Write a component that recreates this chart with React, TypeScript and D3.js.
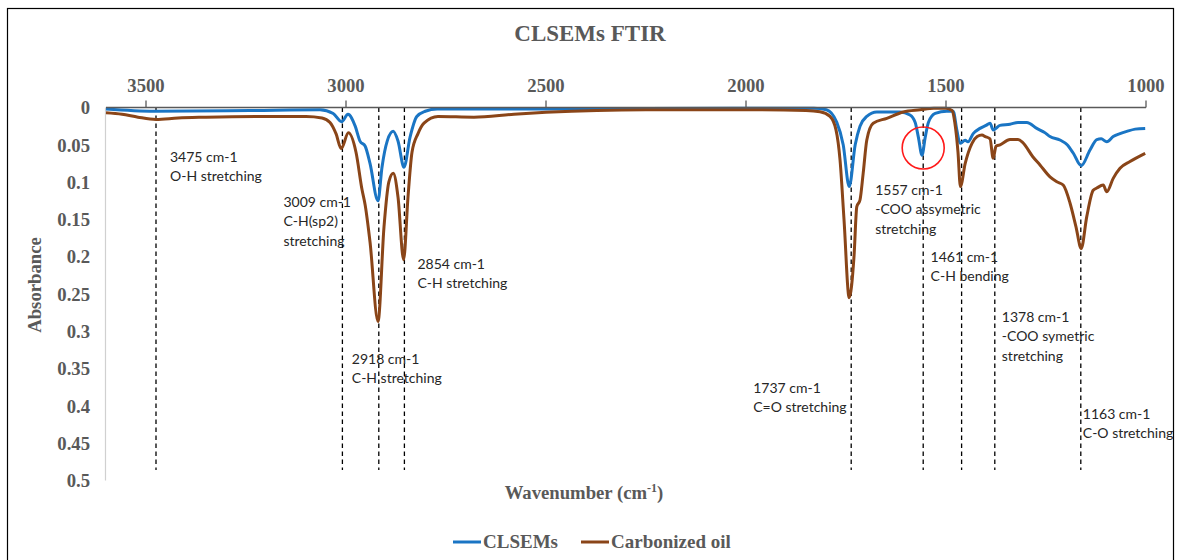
import React from "react";
import * as d3 from "d3";

// FTIR absorbance spectra, [wavenumber (cm-1), absorbance]
const clsemsSpectrum: [number, number][] = [
  [3600, 0.002], [3480, 0.005], [3240, 0.004], [3065, 0.003], [3032, 0.008],
  [3011, 0.019], [2995, 0.009], [2977, 0.025], [2965, 0.045], [2952, 0.052],
  [2940, 0.075], [2920, 0.125], [2910, 0.08], [2897, 0.045], [2882, 0.032],
  [2870, 0.045], [2855, 0.08], [2840, 0.04], [2823, 0.012], [2802, 0.005],
  [2772, 0.002], [2500, 0.002], [2000, 0.001], [1830, 0.001], [1799, 0.003],
  [1773, 0.02], [1757, 0.05], [1742, 0.106], [1727, 0.05], [1715, 0.025],
  [1698, 0.012], [1673, 0.006], [1615, 0.006], [1590, 0.01], [1577, 0.02],
  [1569, 0.04], [1560, 0.064], [1552, 0.04], [1544, 0.02], [1527, 0.008],
  [1498, 0.005], [1482, 0.005], [1473, 0.03], [1465, 0.048], [1452, 0.044],
  [1445, 0.046], [1432, 0.035], [1415, 0.028], [1400, 0.024], [1390, 0.021],
  [1382, 0.03], [1365, 0.024], [1340, 0.0225], [1320, 0.02], [1298, 0.02],
  [1273, 0.028], [1252, 0.034], [1240, 0.039], [1215, 0.0435], [1197, 0.05],
  [1182, 0.061], [1162, 0.078], [1140, 0.057], [1123, 0.043], [1112, 0.042],
  [1098, 0.046], [1082, 0.039], [1065, 0.035], [1048, 0.032], [1027, 0.029],
  [1002, 0.028],
];

const carbonizedOilSpectrum: [number, number][] = [
  [3600, 0.007], [3560, 0.009], [3520, 0.013], [3475, 0.016], [3420, 0.014],
  [3350, 0.013], [3200, 0.012], [3100, 0.012], [3060, 0.014], [3040, 0.02],
  [3025, 0.035], [3012, 0.055], [2994, 0.034], [2975, 0.06], [2960, 0.11],
  [2952, 0.131], [2940, 0.18], [2920, 0.287], [2905, 0.16], [2893, 0.1],
  [2882, 0.088], [2870, 0.12], [2856, 0.204], [2845, 0.12], [2835, 0.06],
  [2820, 0.035], [2805, 0.021], [2770, 0.012], [2680, 0.013], [2580, 0.009],
  [2500, 0.0065], [2250, 0.003], [2000, 0.003], [1850, 0.004], [1815, 0.0056],
  [1790, 0.012], [1775, 0.03], [1765, 0.07], [1755, 0.15], [1742, 0.255],
  [1730, 0.2], [1723, 0.133], [1715, 0.124], [1707, 0.088], [1698, 0.0435],
  [1682, 0.021], [1648, 0.0145], [1607, 0.006], [1565, 0.003], [1530, 0.001],
  [1500, 0.001], [1485, 0.004], [1478, 0.02], [1470, 0.06], [1464, 0.106],
  [1452, 0.075], [1435, 0.048], [1422, 0.039], [1410, 0.037], [1402, 0.039],
  [1390, 0.042], [1382, 0.068], [1375, 0.052], [1365, 0.05], [1340, 0.043],
  [1320, 0.043], [1308, 0.047], [1283, 0.066], [1265, 0.077], [1240, 0.093],
  [1223, 0.0995], [1207, 0.104], [1190, 0.128], [1175, 0.16], [1162, 0.189],
  [1148, 0.146], [1132, 0.111], [1123, 0.108], [1107, 0.104], [1098, 0.113],
  [1082, 0.095], [1065, 0.0815], [1040, 0.0725], [1002, 0.0615],
];

const xTicks = [3500, 3000, 2500, 2000, 1500, 1000];
const yTicks = [0, 0.05, 0.1, 0.15, 0.2, 0.25, 0.3, 0.35, 0.4, 0.45, 0.5];

// assigned bands
const bandWavenumbers = [3475, 3009, 2918, 2854, 1737, 1557, 1461, 1378, 1163];
const bandLabels = [
  ["3475 cm-1", "O-H stretching"],
  ["3009 cm-1", "C-H(sp2)", "stretching"],
  ["2918 cm-1", "C-H stretching"],
  ["2854 cm-1", "C-H stretching"],
  ["1737 cm-1", "C=O stretching"],
  ["1557 cm-1", "-COO assymetric", "stretching"],
  ["1461 cm-1", "C-H bending"],
  ["1378 cm-1", "-COO symetric", "stretching"],
  ["1163 cm-1", "C-O stretching"],
];
// label placement relative to each band line: [dx, y of first line]
const bandLabelLayout: [number, number][] = [
  [14, 157], [-59, 202], [-27, 359], [13, 264], [-98, 388],
  [-48, 190], [-31, 257], [7, 317], [2, 414],
];

const highlightedBand = 1557;

const seriesNames = ["CLSEMs", "Carbonized oil"];
const seriesColors = ["#1a75c4", "#8a4518"];

const W = 1178;
const H = 560;
const gray = "#595959";
const serif = "'Liberation Serif', 'Times New Roman', serif";
const sans = "Lato, 'Open Sans', sans-serif";

export default function App() {
  const x = d3.scaleLinear().domain([3600, 1000]).range([106, 1146]);
  const y = d3.scaleLinear().domain([0, 0.5]).range([107.5, 480.5]);

  const line = d3
    .line<[number, number]>()
    .x((d) => x(d[0]))
    .y((d) => y(d[1]))
    .curve(d3.curveMonotoneX);

  const series = [clsemsSpectrum, carbonizedOilSpectrum];

  return (
    <svg
      width={W}
      height={H}
      viewBox={`0 0 ${W} ${H}`}
      style={{ position: "absolute", left: 0, top: 0, background: "#fff" }}
    >
      <rect x={0} y={0} width={W} height={H} fill="#fff" />
      <rect x={7.5} y={8.5} width={1166} height={H + 10} fill="none" stroke="#000" strokeWidth={1.2} />

      <text
        x={590}
        y={41}
        textAnchor="middle"
        fontFamily={serif}
        fontWeight="bold"
        fontSize={23}
        fill={gray}
      >
        CLSEMs FTIR
      </text>

      {/* value axis */}
      <line x1={105.5} x2={105.5} y1={y(0)} y2={y(0.5)} stroke="#d0d0d0" strokeWidth={1.2} />
      {yTicks.map((t) => (
        <text
          key={t}
          x={90}
          y={y(t)}
          dy="0.36em"
          textAnchor="end"
          fontFamily={serif}
          fontWeight="bold"
          fontSize={18.7}
          fill={gray}
        >
          {d3.format("")(t)}
        </text>
      ))}
      <text
        transform={`translate(41,${285}) rotate(-90)`}
        textAnchor="middle"
        fontFamily={serif}
        fontWeight="bold"
        fontSize={18.7}
        fill={gray}
      >
        Absorbance
      </text>

      {/* band markers */}
      {bandWavenumbers.map((w) => (
        <line
          key={w}
          x1={x(w)}
          x2={x(w)}
          y1={y(0)}
          y2={470}
          stroke="#000"
          strokeWidth={1.3}
          strokeDasharray="4.5,3.5"
        />
      ))}

      {/* spectra */}
      {series.map((s, i) => (
        <path
          key={seriesNames[i]}
          d={line(s) || ""}
          fill="none"
          stroke={seriesColors[i]}
          strokeWidth={3}
          strokeLinejoin="round"
        />
      ))}

      {/* wavenumber axis on top */}
      <line x1={x(3600)} x2={x(1000)} y1={y(0)} y2={y(0)} stroke={gray} strokeWidth={1.3} />
      {xTicks.map((t) => (
        <g key={t} transform={`translate(${x(t)},${y(0)})`}>
          <line y1={0} y2={-7} stroke={gray} strokeWidth={1.3} />
          <text
            y={-15.5}
            textAnchor="middle"
            fontFamily={serif}
            fontWeight="bold"
            fontSize={18.7}
            fill={gray}
          >
            {t}
          </text>
        </g>
      ))}

      {/* band labels */}
      {bandWavenumbers.map((w, i) => (
        <text
          key={`lbl-${w}`}
          fontFamily={sans}
          fontSize={14}
          fill="#262626"
        >
          {bandLabels[i].map((ln, j) => (
            <tspan
              key={j}
              x={x(w) + bandLabelLayout[i][0]}
              y={bandLabelLayout[i][1] + j * 19.3}
              dy="0.35em"
            >
              {ln}
            </tspan>
          ))}
        </text>
      ))}

      <circle
        cx={x(highlightedBand)}
        cy={148}
        r={21}
        fill="none"
        stroke="#ff1a1a"
        strokeWidth={1.6}
      />

      <text
        x={584}
        y={499}
        textAnchor="middle"
        fontFamily={serif}
        fontWeight="bold"
        fontSize={18.7}
        fill={gray}
      >
        Wavenumber (cm
        <tspan fontSize={12} dy={-7}>-1</tspan>
        <tspan dy={7}>)</tspan>
      </text>

      {/* legend */}
      {seriesNames.map((n, i) => {
        const lx = i === 0 ? 453 : 581;
        return (
          <g key={n}>
            <line x1={lx} x2={lx + 28} y1={542} y2={542} stroke={seriesColors[i]} strokeWidth={3} />
            <text
              x={lx + 30}
              y={542}
              dy="0.34em"
              fontFamily={serif}
              fontWeight="bold"
              fontSize={19}
              fill={gray}
            >
              {n}
            </text>
          </g>
        );
      })}
    </svg>
  );
}
